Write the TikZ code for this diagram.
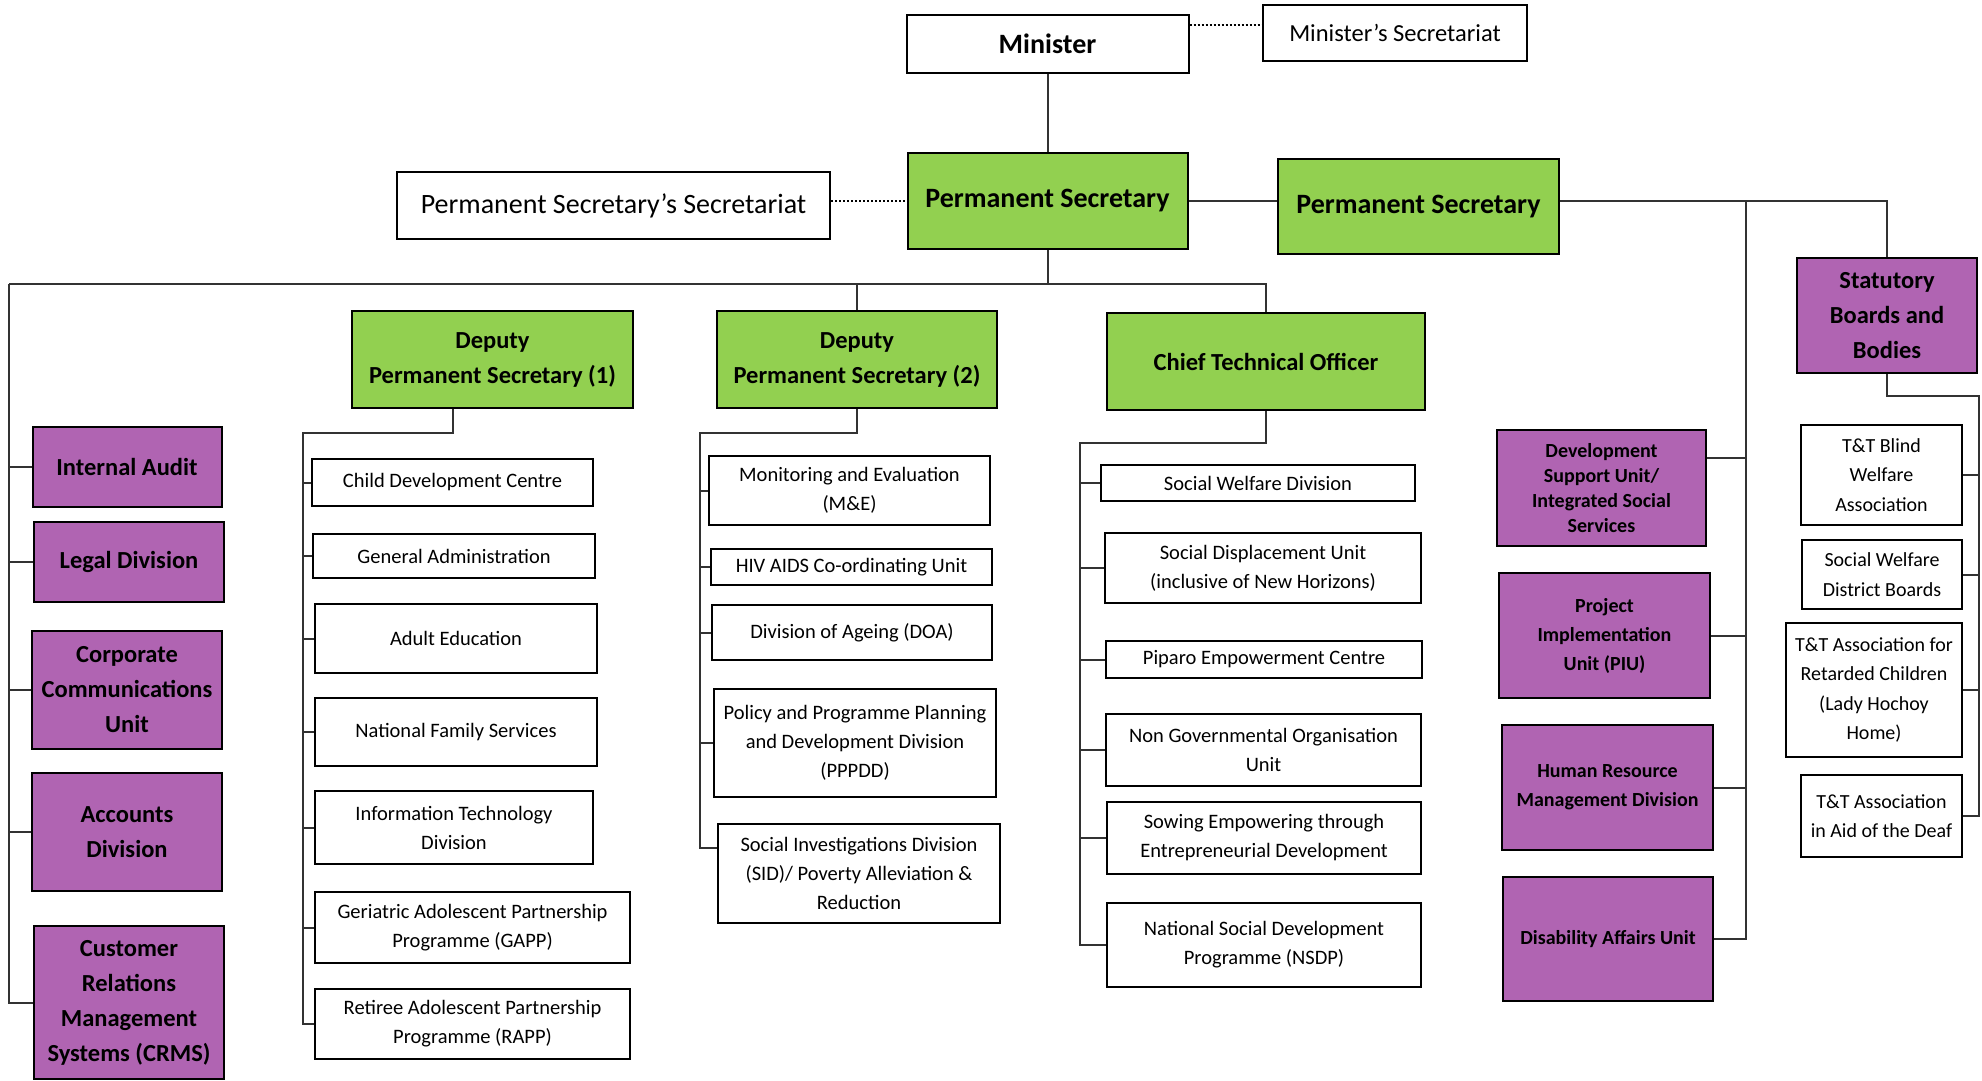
\documentclass[tikz,border=0pt]{standalone}
\usepackage{fontspec}
\setmainfont{Carlito}
\definecolor{psgreen}{RGB}{146,208,80}
\definecolor{unitpurple}{RGB}{176,100,178}
\definecolor{linegray}{RGB}{50,50,50}

\begin{document}
\begin{tikzpicture}[
        x=1pt, y=-1pt,
        sz/.style 2 args={minimum width=#1pt, minimum height=#2pt},
        box/.style={draw, line width=2pt, inner sep=0pt, align=center, fill=white},
        head/.style={box, fill=psgreen, font=\fontsize{28}{34}\selectfont\bfseries},
        deputy/.style={box, fill=psgreen, font=\fontsize{24.5}{35}\selectfont\bfseries},
        unitL/.style={box, fill=unitpurple, font=\fontsize{24.5}{35}\selectfont\bfseries},
        unitR/.style={box, fill=unitpurple, font=\fontsize{20}{29}\selectfont\bfseries},
        sub/.style={box, font=\fontsize{20.5}{29}\selectfont},
        tt/.style={box, font=\fontsize{20}{29.5}\selectfont},
        link/.style={draw=linegray, line width=2pt},
        dots/.style={draw=black, line width=2pt, dotted}
    ]
        \useasboundingbox (0,0) rectangle (1982,1080);

        \node[head, sz={282}{58}, fill=white] (min) at (1047.5,44) {Minister};
        \node[box, sz={264}{56}, font=\fontsize{24.5}{30}\selectfont] (minsec) at (1395,33) {Minister’s Secretariat};
        \node[head, sz={280}{96}] (ps) at (1047.5,201) {Permanent Secretary};
        \node[box, sz={433}{67}, font=\fontsize{28}{34}\selectfont] (pssec) at (613.5,205.5) {Permanent Secretary’s Secretariat};
        \node[head, sz={281}{95}] (ps2) at (1418.5,206.5) {Permanent Secretary};

        \node[deputy, sz={281}{97}] (dps1) at (492.5,359.5) {Deputy\\Permanent Secretary (1)};
        \node[deputy, sz={280}{97}] (dps2) at (857,359.5) {Deputy\\Permanent Secretary (2)};
        \node[deputy, sz={318}{97}] (cto) at (1266,361.5) {Chief Technical Officer};
        \node[unitL, sz={180}{115}] (sbb) at (1887,315.5) {Statutory\\Boards and\\Bodies};

        \node[unitL, sz={189}{80}] (ia) at (127,466.5) {Internal Audit};
        \node[unitL, sz={190}{80}] (legal) at (129,562) {Legal Division};
        \node[unitL, sz={190}{118}] (ccu) at (127,690) {Corporate\\Communications\\Unit};
        \node[unitL, sz={190}{118}] (acc) at (127,832) {Accounts\\Division};
        \node[unitL, sz={190}{153}] (crms) at (129,1002.5) {Customer\\Relations\\Management\\Systems (CRMS)};

        \node[sub, sz={281}{47}] (cdc) at (452.5,482.5) {Child Development Centre};
        \node[sub, sz={282}{44}] (ga) at (454,556) {General Administration};
        \node[sub, sz={282}{69}] (ae) at (456,638.5) {Adult Education};
        \node[sub, sz={282}{68}] (nfs) at (456,732) {National Family Services};
        \node[sub, sz={278}{73}] (itd) at (454,827.5) {Information Technology\\Division};
        \node[sub, sz={315}{71}] (gapp) at (472.5,927.5) {Geriatric Adolescent Partnership\\Programme (GAPP)};
        \node[sub, sz={315}{70}] (rapp) at (472.5,1024) {Retiree Adolescent Partnership\\Programme (RAPP)};

        \node[sub, sz={281}{69}] (me) at (849.5,490.5) {Monitoring and Evaluation\\(M\&E)};
        \node[sub, sz={281}{36}] (hiv) at (851.5,567) {HIV AIDS Co-ordinating Unit};
        \node[sub, sz={280}{55}] (doa) at (852,632.5) {Division of Ageing (DOA)};
        \node[sub, sz={282}{108}] (pppdd) at (855,743) {Policy and Programme Planning\\and Development Division\\(PPPDD)};
        \node[sub, sz={282}{99}] (sid) at (859,873.5) {Social Investigations Division\\(SID)/ Poverty Alleviation \&\\Reduction};

        \node[sub, sz={314}{36}] (swd) at (1258,483) {Social Welfare Division};
        \node[sub, sz={316}{70}] (sdu) at (1263,568) {Social Displacement Unit\\(inclusive of New Horizons)};
        \node[sub, sz={316}{37}] (pec) at (1264,659.5) {Piparo Empowerment Centre};
        \node[sub, sz={315}{72}] (ngo) at (1263.5,750) {Non Governmental Organisation\\Unit};
        \node[sub, sz={314}{72}] (seed) at (1264,838) {Sowing Empowering through\\Entrepreneurial Development};
        \node[sub, sz={314}{84}] (nsdp) at (1264,945) {National Social Development\\Programme (NSDP)};

        \node[unitR, sz={209}{116}, font=\fontsize{20}{25}\selectfont\bfseries] (dsu) at (1601.5,488) {Development\\Support Unit/\\Integrated Social\\Services};
        \node[unitR, sz={211}{125}] (piu) at (1604.5,635.5) {Project\\Implementation\\Unit (PIU)};
        \node[unitR, sz={211}{125}] (hrm) at (1607.5,787.5) {Human Resource\\Management Division};
        \node[unitR, sz={210}{124}] (dau) at (1608,939) {Disability Affairs Unit};

        \node[tt, sz={161}{100}] (blind) at (1881.5,475) {T\&T Blind\\Welfare\\Association};
        \node[tt, sz={160}{69}] (swdb) at (1882,574.5) {Social Welfare\\District Boards};
        \node[tt, sz={176}{134}] (lhh) at (1874,690) {T\&T Association for\\Retarded Children\\(Lady Hochoy\\Home)};
        \node[tt, sz={161}{82}] (deaf) at (1881.5,816) {T\&T Association\\in Aid of the Deaf};

        \coordinate (tbus) at (9,284);
        \coordinate (rbus) at (1746,201);
        \coordinate (sbus) at (1979,396);
        \coordinate (b1) at (303,433);
        \coordinate (b2) at (700,433);
        \coordinate (b3) at (1080,443);

        \draw[link] (min.south) -- (ps.north);
        \draw[dots] ([yshift=19pt]min.east) -- ([yshift=19pt]min.east -| minsec.west);
        \draw[dots] (pssec.east |- ps.west) -- (ps.west);
        \draw[link] (ps.east) -- (ps.east -| ps2.west);
        \draw[link] (ps2.east |- ps.east) -- (ps.east -| sbb.north) -- (sbb.north);

        \draw[link] (rbus) |- (dau.east);
        \draw[link] ([yshift=-29pt]dsu.north east) -- ([yshift=-29pt]dsu.north east -| rbus);
        \foreach \n in {piu,hrm}
            \draw[link] (\n.east) -- (\n.east -| rbus);

        \draw[link] (sbb.south) |- (sbus) |- (deaf.east);
        \foreach \n in {blind,swdb,lhh}
            \draw[link] (\n.east) -- (\n.east -| sbus);

        \draw[link] (ps.south) -- (ps.south |- tbus);
        \draw[link] (tbus) -- (tbus -| cto.north) -- (cto.north);
        \draw[link] (tbus -| dps2.north) -- (dps2.north);
        \draw[link] (tbus) |- (crms.west);
        \foreach \n in {ia,legal,ccu,acc}
            \draw[link] (\n.west) -- (\n.west -| tbus);

        \draw[link] ([xshift=-40pt]dps1.south) |- (b1) |- (rapp.west);
        \foreach \n in {cdc,ga,ae,nfs,itd,gapp}
            \draw[link] (b1 |- \n.west) -- (\n.west);

        \draw[link] (dps2.south) |- (b2) |- ([yshift=26pt]sid.west);
        \foreach \n in {me,hiv,doa,pppdd}
            \draw[link] (b2 |- \n.west) -- (\n.west);

        \draw[link] (cto.south) |- (b3) |- (nsdp.west);
        \foreach \n in {swd,sdu,pec,ngo,seed}
            \draw[link] (b3 |- \n.west) -- (\n.west);
    \end{tikzpicture}
\end{document}
